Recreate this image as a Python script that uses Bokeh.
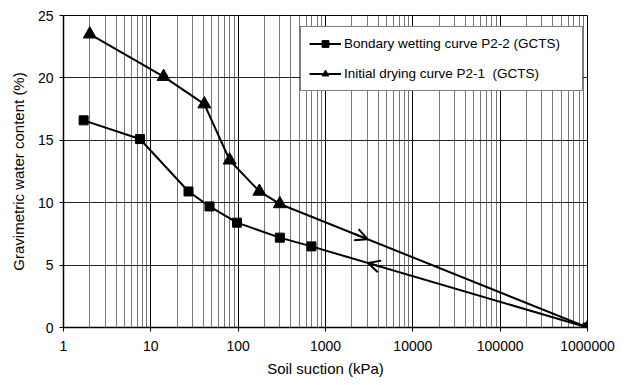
import numpy as np
from bokeh.plotting import figure
from bokeh.models import FixedTicker, Arrow, OpenHead, Legend, LegendItem
from bokeh.embed import file_html
from bokeh.resources import INLINE

# ---- data ----
wet_suction = [1.7, 7.5, 27, 47, 97, 300, 690, 1000000]
wet_content = [16.6, 15.1, 10.9, 9.7, 8.4, 7.2, 6.5, 0.0]
dry_suction = [2.0, 14, 41, 80, 175, 300, 1000000]
dry_content = [23.5, 20.1, 17.9, 13.4, 10.9, 9.9, 0.0]

x_major = [1, 10, 100, 1000, 10000, 100000, 1000000]
x_tick_labels = ["1", "10", "100", "1000", "10000", "100000", "1000000"]
y_major = [0, 5, 10, 15, 20, 25]

FONT = "Liberation Sans"

p = figure(width=625, height=385, x_axis_type="log",
           x_range=(1, 1000000), y_range=(0, 25),
           output_backend="svg", toolbar_location=None,
           min_border_left=63, min_border_right=38,
           min_border_top=15, min_border_bottom=58)
p.background_fill_color = "white"
p.border_fill_color = "white"
p.outline_line_color = "black"
p.outline_line_width = 1

minor = [m * d for d in x_major[:-1] for m in range(2, 10)]
p.xaxis.ticker = FixedTicker(ticks=x_major, minor_ticks=minor)
p.xgrid.ticker = FixedTicker(ticks=x_major, minor_ticks=minor)
p.yaxis.ticker = FixedTicker(ticks=y_major)
p.ygrid.ticker = FixedTicker(ticks=y_major)
p.xaxis.major_label_overrides = {v: s for v, s in zip(x_major, x_tick_labels)}

p.xgrid.grid_line_color = "black"
p.xgrid.grid_line_width = 1
p.xgrid.minor_grid_line_color = "#777777"
p.xgrid.minor_grid_line_width = 1
p.ygrid.grid_line_color = "#222222"
p.ygrid.grid_line_width = 1

for ax in (p.xaxis, p.yaxis):
    ax.axis_line_color = "black"
    ax.axis_line_width = 1.5
    ax.major_tick_line_color = "black"
    ax.major_tick_out = 4
    ax.major_tick_in = 0
    ax.minor_tick_line_color = None
    ax.major_label_text_font = FONT
    ax.major_label_text_font_size = "14px"
    ax.major_label_text_color = "black"
    ax.axis_label_text_font = FONT
    ax.axis_label_text_font_size = "15px"
    ax.axis_label_text_font_style = "normal"
    ax.axis_label_text_color = "black"

p.xaxis.axis_label = "Soil suction (kPa)"
p.yaxis.axis_label = "Gravimetric water content (%)"
p.xaxis.major_label_standoff = 9
p.xaxis.axis_label_standoff = 6
p.yaxis.major_label_standoff = 6
p.yaxis.axis_label_standoff = 8

# ---- series ----
wl = p.line(wet_suction, wet_content, line_color="black", line_width=2)
ws = p.scatter(wet_suction, wet_content, marker="square", size=9,
               fill_color="black", line_color="black")
dl = p.line(dry_suction, dry_content, line_color="black", line_width=2)
ds = p.scatter(dry_suction, dry_content, marker="triangle", size=13,
               fill_color="black", line_color="black")

# ---- direction arrows on the last segments (log-x interpolation) ----
def along(xs, ys, f):
    lx0, lx1 = np.log10(xs[-2]), np.log10(xs[-1])
    return 10 ** (lx0 + f * (lx1 - lx0)), ys[-2] + f * (ys[-1] - ys[-2])

x0, y0 = along(dry_suction, dry_content, 0.24)
x1, y1 = along(dry_suction, dry_content, 0.285)
p.add_layout(Arrow(end=OpenHead(size=12, line_width=2, line_color="black"),
                   x_start=x0, y_start=y0, x_end=x1, y_end=y1,
                   line_color="black", line_width=2))
x0, y0 = along(wet_suction, wet_content, 0.25)
x1, y1 = along(wet_suction, wet_content, 0.205)
p.add_layout(Arrow(end=OpenHead(size=12, line_width=2, line_color="black"),
                   x_start=x0, y_start=y0, x_end=x1, y_end=y1,
                   line_color="black", line_width=2))

legend = Legend(items=[
    LegendItem(label="Bondary wetting curve P2-2 (GCTS)", renderers=[wl, ws]),
    LegendItem(label="Initial drying curve P2-1  (GCTS)", renderers=[dl, ds]),
], location=(237, 236))
legend.border_line_color = "black"
legend.border_line_width = 1
legend.background_fill_color = "white"
legend.background_fill_alpha = 1
legend.label_text_font = FONT
legend.label_text_font_size = "13.5px"
legend.label_text_color = "black"
legend.padding = 8
legend.spacing = 13
legend.glyph_height = 17
legend.label_height = 17
legend.glyph_width = 32
legend.label_standoff = 3
legend.label_width = 230
legend.margin = 0
p.add_layout(legend, "center")

open("out.html", "w").write(file_html(p, INLINE))
